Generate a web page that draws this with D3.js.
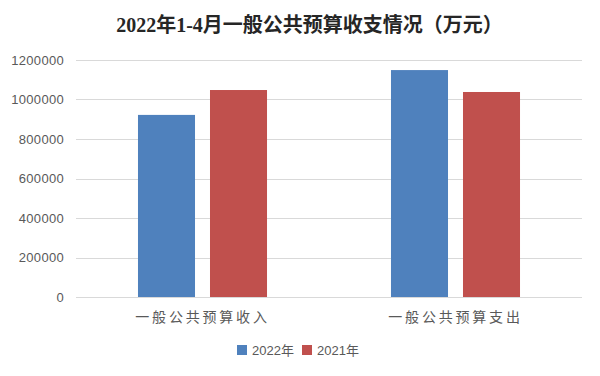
<!DOCTYPE html>
<html><head><meta charset="utf-8">
<script src="https://cdn.jsdelivr.net/npm/d3@7"></script>
<style>body{margin:0;background:#fff}svg{display:block}</style>
</head><body>
<script>
const categories = ["一般公共预算收入", "一般公共预算支出"];
const seriesNames = ["2022年", "2021年"];
const values2022 = [922000, 1149000];
const values2021 = [1048000, 1038000];
const yTicks = [0, 200000, 400000, 600000, 800000, 1000000, 1200000];
const colors = ["#4F81BD", "#C0504D"];
const title = "2022年1-4月一般公共预算收支情况（万元）";

const W = 600, H = 376;
const m = {left: 76, right: 18, top: 60, bottom: 79};
const svg = d3.select("body").append("svg").attr("width", W).attr("height", H);

const y = d3.scaleLinear().domain([0, 1200000]).range([H - m.bottom, m.top]);
const x0 = d3.scaleBand().domain(categories).range([m.left, W - m.right]).paddingInner(0.49).paddingOuter(0.245);
const x1 = d3.scaleBand().domain(seriesNames).range([0, x0.bandwidth()]).paddingInner(0.208).paddingOuter(0);

const data = [values2022, values2021];

// gridlines
svg.append("g").selectAll("line").data(yTicks).join("line")
  .attr("x1", m.left).attr("x2", W - m.right)
  .attr("y1", d => Math.round(y(d)) + 0.5).attr("y2", d => Math.round(y(d)) + 0.5)
  .attr("stroke", "#D9D9D9").attr("stroke-width", 1);

// y labels
const yAxis = d3.axisLeft(y).tickValues(yTicks).tickSize(0).tickPadding(0).tickFormat(d => String(d));
const ya = svg.append("g").attr("transform", `translate(${m.left - 12},0)`).call(yAxis);
ya.select(".domain").remove();
ya.selectAll("text").attr("font-family", "'Liberation Sans', Arial, sans-serif").attr("font-size", 13)
  .attr("letter-spacing", "0.3px").attr("fill", "#595959");

// bars
const g = svg.append("g");
categories.forEach((c, ci) => {
  seriesNames.forEach((s, si) => {
    const v = data[si][ci];
    g.append("rect")
      .attr("x", x0(c) + x1(s))
      .attr("y", y(v))
      .attr("width", x1.bandwidth())
      .attr("height", y(0) - y(v))
      .attr("fill", colors[si]);
  });
});

// x labels
const xAxis = d3.axisBottom(x0).tickSize(0).tickPadding(0);
const xa = svg.append("g").attr("transform", `translate(0,${H - m.bottom + 25})`).call(xAxis);
xa.select(".domain").remove();
xa.selectAll("text").attr("font-family", "'Noto Sans CJK SC', sans-serif").attr("font-size", 14)
  .attr("letter-spacing", "2.8px").attr("fill", "#595959").attr("dy", "0");

// title
svg.append("text").attr("x", 309.5).attr("y", 32).attr("text-anchor", "middle")
  .attr("font-family", "'Liberation Serif', 'Noto Sans CJK SC', serif").attr("font-weight", "bold")
  .attr("font-size", 20).attr("fill", "#262626").text(title);

// legend
const leg = svg.append("g");
const legX = [237, 302];
seriesNames.forEach((s, i) => {
  leg.append("rect").attr("x", legX[i]).attr("y", 345).attr("width", 10).attr("height", 10).attr("fill", colors[i]);
  leg.append("text").attr("x", legX[i] + 15).attr("y", 355)
    .attr("font-family", "'Liberation Sans', 'Noto Sans CJK SC', sans-serif").attr("font-size", 13)
    .attr("fill", "#595959").text(s);
});
</script>
</body></html>
